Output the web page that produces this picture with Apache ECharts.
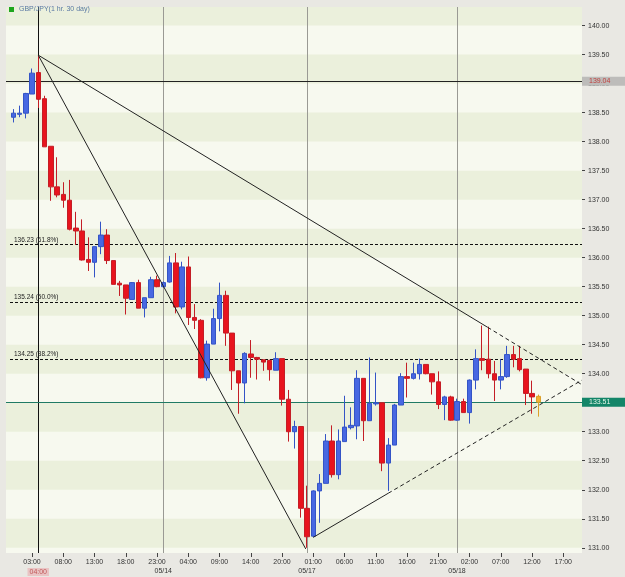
<!DOCTYPE html>
<html><head><meta charset="utf-8">
<script src="https://cdn.jsdelivr.net/npm/echarts@6/dist/echarts.min.js"></script>
<style>html,body{margin:0;padding:0;background:#e9e8e3}#c{width:625px;height:577px}</style>
</head><body><div id="c"></div>
<script>
// ---- data ----
const hourCats = [
 '00:00','01:00','02:00','03:00','04:00','05:00','06:00','07:00','08:00','09:00','10:00','11:00',
 '12:00','13:00','14:00','15:00','16:00','17:00','18:00','19:00','20:00','21:00','22:00','23:00',
 '00:00','01:00','02:00','03:00','04:00','05:00','06:00','07:00','08:00','09:00','10:00','11:00',
 '12:00','13:00','14:00','15:00','16:00','17:00','18:00','20:00','21:00','22:00','23:00',
 '00:00','01:00','02:00','03:00','04:00','05:00','06:00','07:00','08:00','09:00','10:00','11:00',
 '12:00','13:00','14:00','15:00','16:00','17:00','18:00','19:00','20:00','21:00','22:00','23:00',
 '00:00','01:00','02:00','03:00','04:00','05:00','06:00','07:00','08:00','09:00','10:00','11:00',
 '12:00','13:00','14:00','15:00','16:00','17:00','18:00','19:00','20:00'
];
const xTickIdx = [3,8,13,18,23,28,33,38,43,48,53,58,63,68,73,78,83,88];
const dayIdx = [24,47,71];
const dayLabels = ['05/14','05/17','05/18'];
const crossIdx = 4;
const crossLabel = '04:00';
const crossPrice = 139.04;
const lastPrice = 133.51;
const yTicks = [131,131.5,132,132.5,133,133.5,134,134.5,135,135.5,136,136.5,137,137.5,138,138.5,139,139.5,140];
const fibLevels = [136.23, 135.24, 134.25];
const fibLabels = ['136.23 (61.8%)','135.24 (50.0%)','134.25 (38.2%)'];

const openVals = [138.42,138.47,138.49,138.82,139.19,138.74,137.92,137.22,137.09,136.99,
 136.51,136.46,135.97,135.92,136.19,136.39,135.95,135.56,135.53,135.28,
 135.57,135.13,135.31,135.62,135.50,135.58,135.91,135.15,135.84,134.97,
 134.92,133.93,134.51,134.95,135.35,134.70,134.05,133.84,134.34,134.28,
 134.24,134.23,134.06,134.26,133.56,133.00,133.09,131.68,131.20,131.98,
 132.11,132.84,132.26,132.83,133.07,133.10,133.92,133.19,133.48,133.50,
 132.46,132.77,133.46,133.95,133.92,134.00,134.16,134.00,133.86,133.47,
 133.60,133.20,133.52,133.33,133.89,134.26,134.25,134.00,133.89,133.95,
 134.33,134.26,134.08,133.66,133.61];
const closeVals = [138.49,138.49,138.83,139.18,138.73,137.91,137.22,137.08,136.99,136.49,
 136.46,135.96,135.92,136.19,136.39,135.95,135.54,135.53,135.30,135.57,
 135.13,135.31,135.62,135.50,135.57,135.91,135.15,135.84,134.97,134.92,
 133.93,134.51,134.95,135.35,134.70,134.05,133.84,134.35,134.28,134.25,
 134.20,134.07,134.26,133.56,133.00,133.09,131.68,131.19,131.98,132.11,
 132.84,132.26,132.84,133.08,133.11,133.92,133.19,133.49,133.50,132.46,
 132.77,133.46,133.95,133.92,134.00,134.16,134.00,133.86,133.47,133.60,
 133.20,133.52,133.33,133.89,134.26,134.23,134.00,133.89,133.95,134.33,
 134.25,134.07,133.66,133.60,133.51];
const lowVals = [138.33,138.42,138.40,138.82,138.58,137.91,136.98,137.04,136.86,136.47,
 136.22,135.95,135.77,135.66,136.06,135.89,135.54,135.34,135.02,135.28,
 135.13,134.97,135.31,135.49,135.48,135.57,135.04,135.11,134.84,134.77,
 133.92,133.88,134.51,134.73,134.48,133.72,133.31,133.49,133.93,133.90,
 134.05,133.88,134.06,133.45,132.83,132.71,131.52,131.00,131.18,131.43,
 132.11,132.21,132.18,132.83,133.04,132.87,132.84,133.19,133.45,132.32,
 131.98,132.77,133.46,133.59,133.90,133.90,133.99,133.64,133.39,133.20,
 133.19,133.19,133.33,133.14,133.73,134.06,133.92,133.53,133.73,133.93,
 134.11,134.04,133.46,133.31,133.26];
const highVals = [138.56,138.62,138.84,139.26,139.49,138.79,137.92,137.73,137.30,137.34,
 136.79,136.66,136.35,136.19,136.62,136.49,135.95,135.60,135.53,135.58,
 135.62,135.31,135.67,135.69,135.59,136.03,136.08,135.93,136.02,135.20,
 134.94,134.57,135.12,135.57,135.43,134.70,134.05,134.37,134.58,134.29,
 134.24,134.24,134.37,134.26,133.72,133.19,133.09,132.07,131.99,132.27,
 132.96,133.11,133.04,133.62,133.42,134.06,133.92,134.28,134.02,133.50,
 132.89,133.48,134.01,134.19,134.19,134.26,134.16,134.00,134.04,133.62,
 133.62,133.57,133.57,133.90,134.42,134.83,134.81,134.22,134.25,134.48,
 134.48,134.48,134.08,133.88,133.64];

// trend lines in data coordinates [index, price]
const trendA = [[4,139.49],[46.8,130.98]];
const trendB = [[4,139.49],[75.9,134.80]];
const trendBExt = [[75.9,134.80],[91,133.81]];
const trendC = [[48,131.18],[60,131.94]];
const trendCExt = [[60,131.94],[91,133.89]];

// ---- chart ----
const FONT = 'Liberation Sans, Arial, sans-serif';
const X_MIN = -1.16, X_MAX = 91.0, Y_MIN = 130.91, Y_MAX = 140.32;
const lastIdx = openVals.length - 1;

const candleData = openVals.map((o, i) => {
  const item = { value: [i, o, closeVals[i], lowVals[i], highVals[i]] };
  if (i === lastIdx) {
    item.itemStyle = { color: '#f2b234', color0: '#f2b234', borderColor: '#dca02a', borderColor0: '#dca02a' };
  }
  return item;
});

const bands = [];
for (let v = 131; v <= 140; v += 1) bands.push([{ yAxis: v }, { yAxis: Math.min(v + 0.5, Y_MAX) }]);

const chart = echarts.init(document.getElementById('c'), null, { renderer: 'canvas' });
chart.setOption({
  animation: false,
  backgroundColor: '#e9e8e3',
  textStyle: { fontFamily: FONT },
  legend: {
    left: 9, top: 6, padding: 0, icon: 'rect', itemWidth: 5, itemHeight: 5,
    selectedMode: false,
    itemStyle: { color: '#1ea61e', borderWidth: 0 },
    textStyle: { fontSize: 7, color: '#5a78a4', fontFamily: FONT },
    data: ['GBP/JPY(1 hr. 30 day)']
  },
  grid: { left: 6, right: 43, top: 7, bottom: 24, show: true, backgroundColor: '#f7f9ef', borderWidth: 0 },
  xAxis: [
    {
      type: 'value', min: X_MIN, max: X_MAX, splitLine: { show: false },
      axisLine: { show: false, onZero: false },
      axisTick: { show: true, customValues: xTickIdx, length: 4, lineStyle: { color: '#444' } },
      axisLabel: { customValues: xTickIdx, formatter: v => hourCats[v], fontSize: 7, color: '#333', margin: 6, fontFamily: FONT }
    },
    {
      type: 'value', min: X_MIN, max: X_MAX, position: 'bottom', offset: 10, splitLine: { show: false },
      axisLine: { show: false, onZero: false }, axisTick: { show: false },
      axisLabel: {
        customValues: [crossIdx].concat(dayIdx), margin: 5, fontSize: 7, color: '#333', fontFamily: FONT,
        formatter: v => v === crossIdx ? '{p|' + crossLabel + '}' : dayLabels[dayIdx.indexOf(v)],
        rich: { p: { backgroundColor: '#e9c4c4', color: '#c25a5a', padding: [1, 2, 0, 2], fontSize: 7, fontFamily: FONT } }
      }
    }
  ],
  yAxis: {
    type: 'value', position: 'right', min: Y_MIN, max: Y_MAX, splitLine: { show: false },
    axisLine: { show: false, onZero: false },
    axisTick: { show: true, inside: false, customValues: yTicks, length: 3, lineStyle: { color: '#444' } },
    axisLabel: { customValues: yTicks, formatter: v => v.toFixed(2), fontSize: 7, color: '#333', margin: 6, fontFamily: FONT }
  },
  series: [
    {
      name: 'bg', type: 'line', data: [], silent: true, z: 1,
      markArea: { silent: true, z: 1, itemStyle: { color: '#ebf0dc' }, data: bands },
      markLine: {
        silent: true, symbol: 'none', z: 2, animation: false,
        data: [
          { xAxis: dayIdx[0], lineStyle: { color: '#9a9a94', width: 1, type: 'solid' }, label: { show: false } },
          { xAxis: dayIdx[1], lineStyle: { color: '#9a9a94', width: 1, type: 'solid' }, label: { show: false } },
          { xAxis: dayIdx[2], lineStyle: { color: '#9a9a94', width: 1, type: 'solid' }, label: { show: false } },
          { xAxis: crossIdx, lineStyle: { color: '#111', width: 1, type: 'solid' }, label: { show: false } },
          { yAxis: crossPrice, lineStyle: { color: '#222', width: 1, type: 'solid' },
            label: { show: true, position: 'end', distance: 0, formatter: crossPrice.toFixed(2), backgroundColor: '#bdbcba',
                     color: '#c0403e', fontSize: 7, padding: [1, 16, 1, 7], fontFamily: FONT } },
          { yAxis: lastPrice, lineStyle: { color: '#1f7a64', width: 1, type: 'solid' },
            label: { show: true, position: 'end', distance: 0, formatter: lastPrice.toFixed(2), backgroundColor: '#138568',
                     color: '#e6f6ea', fontSize: 7, padding: [1, 16, 1, 7], fontFamily: FONT } }
        ]
      }
    },
    {
      name: 'fib', type: 'line', data: [], silent: true, z: 2,
      markLine: {
        silent: true, symbol: 'none', z: 2, animation: false,
        lineStyle: { color: '#111', width: 1, type: [3, 2] },
        data: fibLevels.map((lv, k) => [
          { coord: [-0.52, lv], label: { show: true, position: 'insideStartTop', formatter: fibLabels[k], distance: 1,
              fontSize: 6.5, color: '#222', padding: [0, 0, 0, 3], fontFamily: FONT } },
          { coord: [X_MAX, lv] }
        ])
      }
    },
    {
      name: 'GBP/JPY(1 hr. 30 day)', type: 'candlestick', z: 3, barWidth: 5,
      encode: { x: 0, y: [1, 2, 3, 4] },
      itemStyle: { color: '#4868e2', color0: '#e8141e', borderColor: '#3454c6', borderColor0: '#c41e26', borderWidth: 1 },
      data: candleData
    },
    { type: 'line', z: 4, data: trendA, symbol: 'none', silent: true, lineStyle: { color: '#222', width: 1 } },
    { type: 'line', z: 4, data: trendB, symbol: 'none', silent: true, lineStyle: { color: '#222', width: 1 } },
    { type: 'line', z: 4, data: trendBExt, symbol: 'none', silent: true, lineStyle: { color: '#222', width: 1, type: [4, 3] } },
    { type: 'line', z: 4, data: trendC, symbol: 'none', silent: true, lineStyle: { color: '#222', width: 1 } },
    { type: 'line', z: 4, data: trendCExt, symbol: 'none', silent: true, lineStyle: { color: '#222', width: 1, type: [4, 3] } }
  ]
});
</script></body></html>
